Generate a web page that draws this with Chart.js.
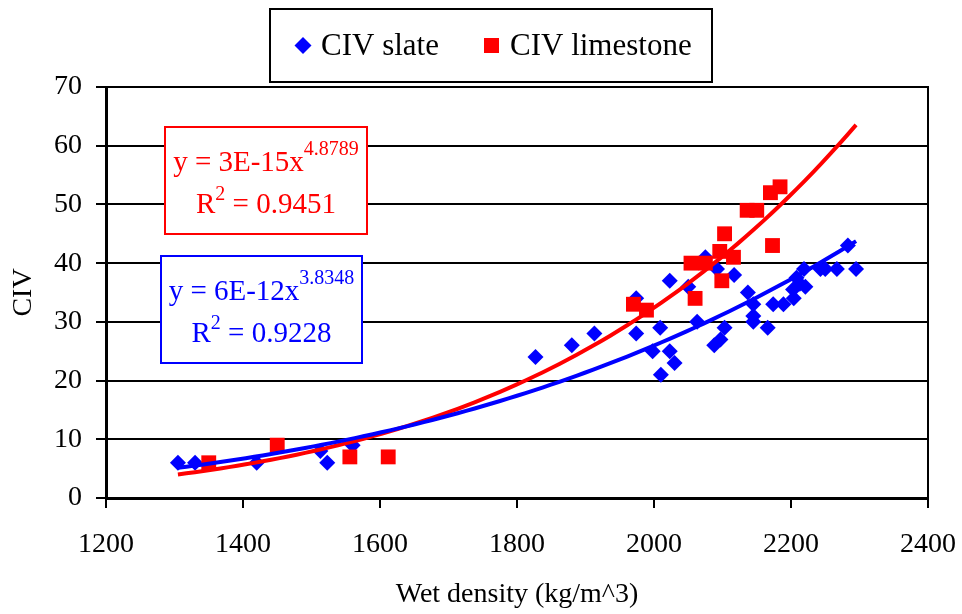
<!DOCTYPE html>
<html>
<head>
<meta charset="utf-8">
<script src="https://cdn.jsdelivr.net/npm/chart.js@4.4.1/dist/chart.umd.min.js"></script>
<style>
  html, body { margin: 0; padding: 0; background: #fff; }
</style>
</head>
<body>
<canvas id="civChart" width="962" height="614"></canvas>
<script>
// CIV slate (blue diamonds)
const slateDensity = [1305, 1330, 1420, 1513, 1523, 1560, 1827, 1880, 1913, 1974, 1974, 1998, 2009, 2010, 2023, 2023,
    2030, 2050, 2063, 2075, 2088, 2092, 2097, 2103, 2117, 2137, 2145, 2145, 2145, 2166, 2174, 2189, 2203, 2204,
    2208, 2213, 2219, 2221, 2243, 2250, 2267, 2283, 2295];
const slateCIV = [6, 6, 6, 8, 6, 9, 24, 26, 28, 28, 34, 25, 29, 21, 25, 37,
    23, 36, 30, 41, 26, 39, 27, 29, 38, 35, 33, 31, 30, 29, 33, 33, 35.5, 34,
    37.5, 36.5, 39, 36, 39, 39, 39, 43, 39];

// CIV limestone (red squares)
const limestoneDensity = [1350, 1450, 1556, 1612, 1970, 1989, 2054, 2060, 2075, 2096, 2099, 2103, 2116, 2136, 2150, 2170, 2173, 2184];
const limestoneCIV = [6, 9, 7, 7, 33, 32, 40, 34, 40, 42, 37, 45, 41, 49, 49, 52, 43, 53];

const xTicks = [1200, 1400, 1600, 1800, 2000, 2200, 2400];
const yTicks = [0, 10, 20, 30, 40, 50, 60, 70];

const slateName = 'CIV slate';
const limestoneName = 'CIV limestone';
const slateEquation = { coef: 'y = 6E-12x', exp: '3.8348', r2: ' = 0.9228' };
const limestoneEquation = { coef: 'y = 3E-15x', exp: '4.8789', r2: ' = 0.9451' };

const BLUE = '#0000FF';
const RED = '#FF0000';
const SERIF = "'Liberation Serif', 'Times New Roman', serif";

function toPoints(xs, ys) {
    return xs.map((x, i) => ({ x: x, y: ys[i] }));
}

// power trendline: least squares on ln y = ln a + b ln x
function powerFit(xs, ys) {
    const n = xs.length;
    let sx = 0, sy = 0, sxx = 0, sxy = 0;
    for (let i = 0; i < n; i++) {
        const lx = Math.log(xs[i]);
        const ly = Math.log(ys[i]);
        sx += lx; sy += ly; sxx += lx * lx; sxy += lx * ly;
    }
    const b = (n * sxy - sx * sy) / (n * sxx - sx * sx);
    const a = Math.exp((sy - b * sx) / n);
    return { a: a, b: b };
}

function trendPoints(fit, from, to) {
    const pts = [];
    const steps = 80;
    for (let i = 0; i <= steps; i++) {
        const x = from + (to - from) * i / steps;
        pts.push({ x: x, y: fit.a * Math.pow(x, fit.b) });
    }
    return pts;
}

const allDensity = slateDensity.concat(limestoneDensity);
const xFrom = Math.min(...allDensity);
const xTo = Math.max(...allDensity);
const slateTrend = trendPoints(powerFit(slateDensity, slateCIV), xFrom, xTo);
const limestoneTrend = trendPoints(powerFit(limestoneDensity, limestoneCIV), xFrom, xTo);

// text with a superscript part, centred on cx
function drawSupText(ctx, main, sup, tail, cx, baseline, color, supRise) {
    ctx.fillStyle = color;
    ctx.textBaseline = 'alphabetic';
    ctx.textAlign = 'left';
    const mainFont = '29px ' + SERIF;
    const supFont = '20px ' + SERIF;
    ctx.font = mainFont;
    const w1 = ctx.measureText(main).width;
    const w3 = ctx.measureText(tail).width;
    ctx.font = supFont;
    const w2 = ctx.measureText(sup).width;
    let x = cx - (w1 + w2 + w3) / 2;
    ctx.font = mainFont;
    ctx.fillText(main, x, baseline);
    x += w1;
    ctx.font = supFont;
    ctx.fillText(sup, x, baseline - supRise);
    x += w2;
    ctx.font = mainFont;
    ctx.fillText(tail, x, baseline);
}

function drawEquationBox(ctx, box, color, eq) {
    ctx.save();
    ctx.fillStyle = '#fff';
    ctx.fillRect(box.x, box.y, box.w, box.h);
    ctx.strokeStyle = color;
    ctx.lineWidth = 2;
    ctx.strokeRect(box.x, box.y, box.w, box.h);
    const cx = box.x + box.w / 2;
    drawSupText(ctx, eq.coef, eq.exp, '', cx, box.y + 44, color, 16);
    drawSupText(ctx, 'R', '2', eq.r2, cx, box.y + 86, color, 13);
    ctx.restore();
}

const decorations = {
    id: 'decorations',
    afterDraw(chart) {
        const ctx = chart.ctx;
        const area = chart.chartArea;
        ctx.save();
        // plot frame
        ctx.strokeStyle = '#000';
        ctx.lineWidth = 2;
        ctx.strokeRect(area.left, area.top, area.right - area.left, area.bottom - area.top);

        // legend box
        ctx.fillStyle = '#fff';
        ctx.fillRect(270, 9, 442, 73);
        ctx.strokeRect(270, 9, 442, 73);
        ctx.fillStyle = BLUE;
        ctx.beginPath();
        ctx.moveTo(303, 37);
        ctx.lineTo(311.5, 45.5);
        ctx.lineTo(303, 54);
        ctx.lineTo(294.5, 45.5);
        ctx.closePath();
        ctx.fill();
        ctx.fillStyle = RED;
        ctx.fillRect(484, 38, 15, 15);
        ctx.fillStyle = '#000';
        ctx.font = '31px ' + SERIF;
        ctx.textBaseline = 'alphabetic';
        ctx.textAlign = 'left';
        ctx.fillText(slateName, 321, 55);
        ctx.fillText(limestoneName, 510, 55);
        ctx.restore();

        drawEquationBox(ctx, { x: area.left + 59, y: 127, w: 202, h: 107 }, RED, limestoneEquation);
        drawEquationBox(ctx, { x: area.left + 55, y: 256, w: 201, h: 107 }, BLUE, slateEquation);
    }
};

new Chart(document.getElementById('civChart'), {
    type: 'scatter',
    data: {
        datasets: [
            {
                label: 'slate trend',
                data: slateTrend,
                showLine: true,
                borderColor: BLUE,
                borderWidth: 4,
                pointRadius: 0,
                fill: false,
                order: 0
            },
            {
                label: 'limestone trend',
                data: limestoneTrend,
                showLine: true,
                borderColor: RED,
                borderWidth: 4,
                pointRadius: 0,
                fill: false,
                order: 1
            },
            {
                label: limestoneName,
                data: toPoints(limestoneDensity, limestoneCIV),
                pointStyle: 'rect',
                pointRadius: 10.5,
                backgroundColor: RED,
                borderWidth: 0,
                order: 2
            },
            {
                label: slateName,
                data: toPoints(slateDensity, slateCIV),
                pointStyle: 'rectRot',
                pointRadius: 8,
                backgroundColor: BLUE,
                borderWidth: 0,
                order: 3
            }
        ]
    },
    options: {
        responsive: false,
        animation: false,
        events: [],
        devicePixelRatio: 1,
        layout: { padding: { top: 87, right: 34, bottom: 0, left: 0 } },
        plugins: {
            legend: { display: false },
            tooltip: { enabled: false }
        },
        scales: {
            x: {
                type: 'linear',
                min: 1200,
                max: 2400,
                afterBuildTicks: s => { s.ticks = xTicks.map(v => ({ value: v })); },
                afterFit: s => {
                    s.height = 116;
                    s.paddingLeft = 0;
                    s.paddingRight = 0;
                },
                ticks: {
                    color: '#000',
                    font: { family: SERIF, size: 28 },
                    padding: 20,
                    maxRotation: 0,
                    callback: v => String(v)
                },
                grid: {
                    display: true,
                    drawOnChartArea: false,
                    drawTicks: true,
                    tickLength: 10,
                    color: '#000',
                    lineWidth: 2
                },
                border: { display: true, color: '#000', width: 3 },
                title: {
                    display: true,
                    text: 'Wet density (kg/m^3)',
                    color: '#000',
                    font: { family: SERIF, size: 28 },
                    padding: { top: 0, bottom: 3 }
                }
            },
            y: {
                min: 0,
                max: 70,
                afterBuildTicks: s => { s.ticks = yTicks.map(v => ({ value: v })); },
                afterFit: s => { s.width = 106; },
                ticks: {
                    color: '#000',
                    font: { family: SERIF, size: 28 },
                    padding: 14,
                    callback: v => String(v)
                },
                grid: {
                    color: '#000',
                    lineWidth: 2,
                    tickLength: 10
                },
                border: { display: true, color: '#000', width: 3 },
                title: {
                    display: true,
                    text: 'CIV',
                    color: '#000',
                    font: { family: SERIF, size: 28 },
                    padding: { top: 7, bottom: 0 }
                }
            }
        }
    },
    plugins: [decorations]
});
</script>
</body>
</html>
